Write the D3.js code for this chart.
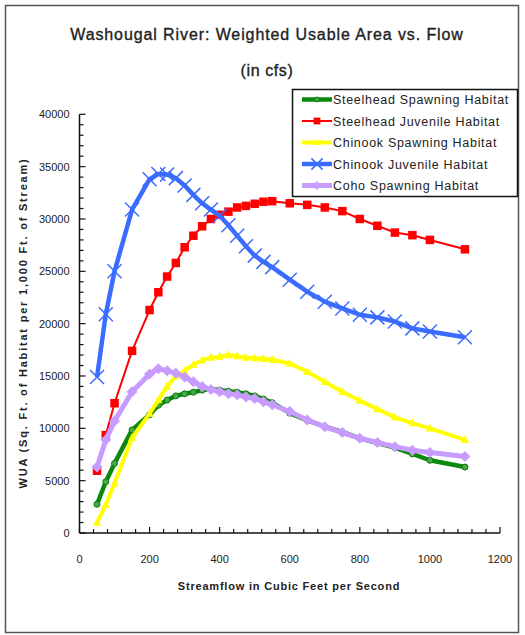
<!DOCTYPE html>
<html>
<head>
<meta charset="utf-8">
<script src="https://cdn.jsdelivr.net/npm/d3@7"></script>
<style>
  body { margin: 0; background: #fff; }
  svg { display: block; font-family: "Liberation Sans", Arial, sans-serif; }
</style>
</head>
<body>
<svg id="chart" width="525" height="635"></svg>
<script>
// flow values (cfs) shared by every series
const flows = [50, 75, 100, 150, 200, 225, 250, 275, 300, 325, 350, 375, 400, 425, 450, 475, 500, 525, 550, 600, 650, 700, 750, 800, 850, 900, 950, 1000, 1100];

const steelheadSpawning = [2750, 4900, 6650, 9850, 11300, 12200, 12700, 13100, 13300, 13450, 13650, 13750, 13650, 13550, 13450, 13300, 13100, 12800, 12450, 11450, 10750, 10150, 9650, 9050, 8600, 8150, 7550, 6950, 6300];
const steelheadJuvenile = [5950, 9350, 12400, 17400, 21300, 23000, 24500, 25800, 27300, 28400, 29300, 30000, 30400, 30700, 31100, 31250, 31450, 31650, 31700, 31500, 31350, 31100, 30750, 30000, 29350, 28700, 28450, 28000, 27100];
const chinookSpawning = [1000, 2700, 4750, 9100, 11400, 12700, 14000, 15000, 15500, 16100, 16500, 16750, 16850, 17000, 16900, 16750, 16700, 16650, 16550, 16200, 15400, 14450, 13500, 12650, 11850, 11050, 10500, 10000, 8900];
const chinookJuvenile = [14900, 20900, 25000, 30900, 33800, 34300, 34250, 33900, 33200, 32300, 31500, 30900, 30300, 29400, 28400, 27400, 26500, 25900, 25400, 24200, 23050, 22100, 21450, 20850, 20600, 20200, 19550, 19250, 18700];
const cohoSpawning = [6300, 8900, 10700, 13500, 15200, 15700, 15500, 15250, 14900, 14450, 14000, 13700, 13500, 13300, 13200, 13000, 12850, 12550, 12250, 11600, 10800, 10150, 9600, 9050, 8650, 8250, 7900, 7700, 7300];

const xTicks = [0, 200, 400, 600, 800, 1000, 1200];
const yTicks = [0, 5000, 10000, 15000, 20000, 25000, 30000, 35000, 40000];

const seriesNames = ['Steelhead Spawning Habitat', 'Steelhead Juvenile Habitat', 'Chinook Spawning Habitat', 'Chinook Juvenile Habitat', 'Coho Spawning Habitat'];
const seriesValues = [steelheadSpawning, steelheadJuvenile, chinookSpawning, chinookJuvenile, cohoSpawning];

const styles = [
    { color: '#0a8a0a', width: 4.5, marker: 'circle', size: 3, fill: '#4aa84a', stroke: '#0a7a0a' },
    { color: '#ff0000', width: 2, marker: 'square', size: 8.5, fill: '#ff0000', stroke: 'none' },
    { color: '#ffff00', width: 4, marker: 'triangle', size: 8, fill: '#ffff00', stroke: 'none' },
    { color: '#3a6cff', width: 4.5, marker: 'cross', size: 7, fill: 'none', stroke: '#3a6cff' },
    { color: '#c89cff', width: 5, marker: 'diamond', size: 5.5, fill: '#c89cff', stroke: 'none' }
];

const svg = d3.select('#chart');

// outer frame
svg.append('rect')
    .attr('x', 5.5).attr('y', 5.5)
    .attr('width', 513).attr('height', 627)
    .attr('fill', 'none').attr('stroke', '#555').attr('stroke-width', 1.5);

// title
svg.append('text')
    .attr('x', 267).attr('y', 40)
    .attr('text-anchor', 'middle')
    .attr('font-size', 16).attr('fill', '#222')
    .attr('stroke', '#222').attr('stroke-width', 0.35)
    .attr('letter-spacing', 0.9)
    .text('Washougal River:  Weighted Usable Area vs. Flow');
svg.append('text')
    .attr('x', 267).attr('y', 76)
    .attr('text-anchor', 'middle')
    .attr('font-size', 16).attr('fill', '#222')
    .attr('stroke', '#222').attr('stroke-width', 0.35)
    .attr('letter-spacing', 0.6)
    .text('(in cfs)');

const x = d3.scaleLinear().domain([0, 1200]).range([79.5, 500]);
const y = d3.scaleLinear().domain([0, 40000]).range([533, 114.3]);

// axes: ticks point inward like the original
const xMinor = d3.range(0, 1201, 40);
const yMinor = d3.range(0, 40001, 1000);

const gx = svg.append('g').attr('transform', `translate(0,${y(0)})`);
gx.append('line').attr('x1', x(0)).attr('x2', x(1200)).attr('stroke', '#111').attr('stroke-width', 1.5);
gx.selectAll('.mt').data(xMinor).enter().append('line')
    .attr('x1', d => x(d)).attr('x2', d => x(d))
    .attr('y1', 0).attr('y2', d => d % 200 === 0 ? -6 : -4)
    .attr('stroke', '#111').attr('stroke-width', 1.2);
gx.selectAll('.tl').data(xTicks).enter().append('text')
    .attr('x', d => x(d)).attr('y', 30)
    .attr('text-anchor', 'middle')
    .attr('font-size', 11).attr('fill', '#222')
    .text(d => d);

const gy = svg.append('g').attr('transform', `translate(${x(0)},0)`);
gy.append('line').attr('y1', y(0)).attr('y2', y(40000)).attr('stroke', '#111').attr('stroke-width', 1.5);
gy.selectAll('.mt').data(yMinor).enter().append('line')
    .attr('y1', d => y(d)).attr('y2', d => y(d))
    .attr('x1', 0).attr('x2', d => d % 5000 === 0 ? 6 : 4)
    .attr('stroke', '#111').attr('stroke-width', 1.2);
gy.selectAll('.tl').data(yTicks).enter().append('text')
    .attr('x', -10).attr('y', d => y(d) + 4)
    .attr('text-anchor', 'end')
    .attr('font-size', 11).attr('fill', '#222')
    .text(d => d);

// axis titles
svg.append('text')
    .attr('x', 289).attr('y', 590)
    .attr('text-anchor', 'middle')
    .attr('font-size', 11).attr('font-weight', 'bold').attr('fill', '#222')
    .attr('letter-spacing', 0.8)
    .text('Streamflow in Cubic Feet per Second');
svg.append('text')
    .attr('transform', 'translate(27,323) rotate(-90)')
    .attr('text-anchor', 'middle')
    .attr('font-size', 11).attr('font-weight', 'bold').attr('fill', '#222')
    .attr('letter-spacing', 1.8)
    .text('WUA (Sq. Ft. of Habitat per 1,000 Ft. of Stream)');

const drawMarker = (g, style, cx, cy) => {
    const s = style.size;
    if (style.marker === 'circle') {
        g.append('circle').attr('cx', cx).attr('cy', cy).attr('r', s)
            .attr('fill', style.fill).attr('stroke', style.stroke).attr('stroke-width', 1);
    } else if (style.marker === 'square') {
        g.append('rect').attr('x', cx - s / 2).attr('y', cy - s / 2)
            .attr('width', s).attr('height', s).attr('fill', style.fill);
    } else if (style.marker === 'triangle') {
        g.append('path').attr('d', `M${cx},${cy - s * 0.6}L${cx + s / 2},${cy + s * 0.4}L${cx - s / 2},${cy + s * 0.4}Z`)
            .attr('fill', style.fill);
    } else if (style.marker === 'diamond') {
        g.append('path').attr('d', `M${cx},${cy - s}L${cx + s},${cy}L${cx},${cy + s}L${cx - s},${cy}Z`)
            .attr('fill', style.fill);
    } else if (style.marker === 'cross') {
        g.append('path').attr('d', `M${cx - s},${cy - s}L${cx + s},${cy + s}M${cx - s},${cy + s}L${cx + s},${cy - s}`)
            .attr('stroke', style.stroke).attr('stroke-width', 1.5).attr('fill', 'none');
    }
}

const line = d3.line().x(d => x(d[0])).y(d => y(d[1]));

seriesValues.forEach((values, i) => {
    const style = styles[i];
    const pts = flows.map((f, k) => [f, values[k]]);
    const g = svg.append('g');
    g.append('path').datum(pts)
        .attr('d', line)
        .attr('fill', 'none')
        .attr('stroke', style.color)
        .attr('stroke-width', style.width)
        .attr('stroke-linejoin', 'round');
    pts.forEach(p => drawMarker(g, style, x(p[0]), y(p[1])));
});

// legend
const legend = svg.append('g');
legend.append('rect')
    .attr('x', 292.5).attr('y', 89.5)
    .attr('width', 225).attr('height', 107)
    .attr('fill', '#fff').attr('stroke', '#111').attr('stroke-width', 1.5);

seriesNames.forEach((name, i) => {
    const style = styles[i];
    const cy = 99.5 + i * 21.5;
    legend.append('line')
        .attr('x1', 302).attr('x2', 332).attr('y1', cy).attr('y2', cy)
        .attr('stroke', style.color).attr('stroke-width', style.width);
    drawMarker(legend, Object.assign({}, style, { size: style.size * 0.8 }), 317, cy);
    legend.append('text')
        .attr('x', 333).attr('y', cy + 4.5)
        .attr('font-size', 12.5).attr('fill', '#222')
        .attr('letter-spacing', 0.7)
        .text(name);
});
</script>
</body>
</html>
